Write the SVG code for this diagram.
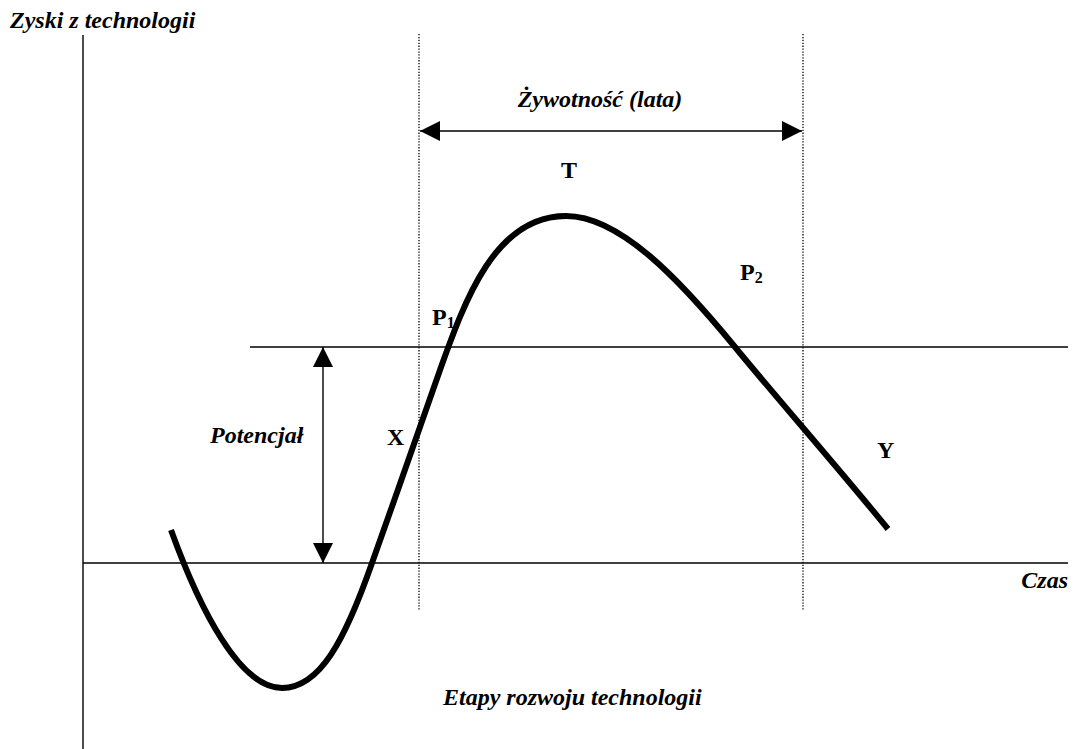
<svg xmlns="http://www.w3.org/2000/svg" width="1074" height="749" viewBox="0 0 1074 749">
<style>
.t{font-family:"Liberation Serif",serif;font-weight:bold;font-size:24px;fill:#000}
.i{font-style:italic}
.ln{stroke:#000;stroke-width:1.4;fill:none}
.dot{stroke:#000;stroke-width:1.3;stroke-dasharray:1.3 1.6;fill:none}
.curve{stroke:#000;stroke-width:6;fill:none;stroke-linejoin:round}
</style>
<defs>
<marker id="ah" viewBox="0 0 20 20" refX="20" refY="10" markerWidth="20" markerHeight="20" markerUnits="userSpaceOnUse" orient="auto-start-reverse">
<path d="M0,0 L20,10 L0,20 Z" fill="#000"/>
</marker>
</defs>
<rect width="1074" height="749" fill="#fff"/>
<g id="axes">
<line class="ln" x1="83" y1="35" x2="83" y2="749"/>
<line class="ln" x1="83" y1="563" x2="1068" y2="563"/>
<line class="ln" x1="250" y1="347" x2="1068" y2="347"/>
<line class="dot" x1="419" y1="34" x2="419" y2="611"/>
<line class="dot" x1="803" y1="34" x2="803" y2="611"/>
</g>
<g id="connectors">
<line class="ln" x1="420" y1="131" x2="802" y2="131" marker-start="url(#ah)" marker-end="url(#ah)"/>
<line class="ln" x1="323" y1="347" x2="323" y2="563" marker-start="url(#ah)" marker-end="url(#ah)"/>
</g>
<g id="curve">
<path class="curve" d="M171,530 C200,610 240,688 282,688 C320,688 345,640 372,563 C397,493 440,370 440,370 C465,300 495,216 566,216 C620,216 680,280 735,347 C770,390 840,470 888,529"/>
</g>
<g id="labels">
<text class="t i" x="10" y="28">Zyski z technologii</text>
<text class="t i" x="600" y="107" text-anchor="middle">Żywotność (lata)</text>
<text class="t" x="569" y="178" text-anchor="middle">T</text>
<text class="t" x="432" y="325">P<tspan font-size="16" dy="3">1</tspan></text>
<text class="t" x="740" y="280">P<tspan font-size="16" dy="3">2</tspan></text>
<text class="t" x="387" y="445">X</text>
<text class="t i" x="210" y="443">Potencjał</text>
<text class="t" x="877" y="458">Y</text>
<text class="t i" x="1068" y="588" text-anchor="end">Czas</text>
<text class="t i" x="443" y="705">Etapy rozwoju technologii</text>
</g>
</svg>
